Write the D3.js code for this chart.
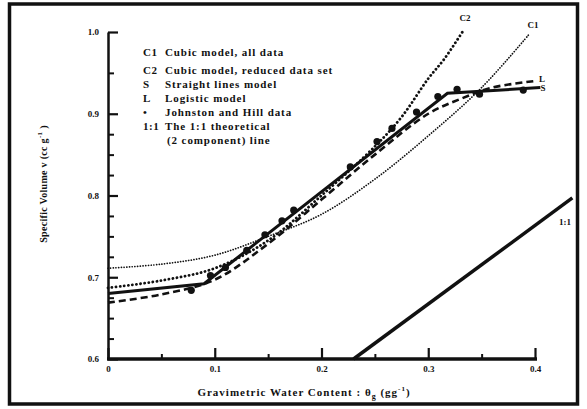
<!DOCTYPE html>
<html>
<head>
<meta charset="utf-8">
<script src="https://cdn.jsdelivr.net/npm/d3@7"></script>
<style>
    body { margin: 0; background: #fff; }
    svg { display: block; }
    text { font-family: "Liberation Serif", "DejaVu Serif", serif; font-weight: bold; fill: #111; }
    .tick line, .domain { stroke: #111; }
</style>
</head>
<body>
<div id="vis"></div>
<script>
// Data ----------------------------------------------------------------------

const THETA_TICKS = [0, 0.1, 0.2, 0.3, 0.4];
const THETA_MINOR = [0.05, 0.15, 0.25, 0.35];
const VOL_TICKS = [0.6, 0.7, 0.8, 0.9, 1.0];
const VOL_MINOR = [0.625, 0.65, 0.675, 0.725, 0.75, 0.775, 0.825, 0.85, 0.875, 0.95];

// C1: cubic model, all data
const C1_THETA = [0, 0.05, 0.1, 0.15, 0.2, 0.25, 0.3, 0.35, 0.395];
const C1_VOL = [0.711, 0.716, 0.727, 0.750, 0.777, 0.820, 0.873, 0.932, 0.998];

// C2: cubic model, reduced data set
const C2_THETA = [0, 0.05, 0.1, 0.15, 0.2, 0.25, 0.275, 0.3, 0.315, 0.332];
const C2_VOL = [0.687, 0.696, 0.711, 0.745, 0.800, 0.860, 0.896, 0.943, 0.967, 1.0];

// S: straight lines model
const S_THETA = [0, 0.09, 0.318, 0.405];
const S_VOL = [0.680, 0.692, 0.925, 0.932];

// L: logistic model
const L_THETA = [0, 0.05, 0.1, 0.15, 0.2, 0.25, 0.3, 0.33, 0.36, 0.4];
const L_VOL = [0.669, 0.679, 0.697, 0.741, 0.795, 0.850, 0.900, 0.918, 0.932, 0.940];

// 1:1 theoretical line
const ONE_THETA = [0.23, 0.435];
const ONE_VOL = [0.6, 0.797];

// Johnston and Hill data
const JH_THETA = [0.078, 0.096, 0.110, 0.130, 0.147, 0.163, 0.174, 0.227,
    0.252, 0.266, 0.289, 0.309, 0.327, 0.348, 0.389];
const JH_VOL = [0.684, 0.702, 0.712, 0.733, 0.752, 0.769, 0.782, 0.835,
    0.866, 0.882, 0.902, 0.921, 0.930, 0.924, 0.929];

const LEGEND_KEYS = ["C1", "C2", "S", "L", "\u2022", "1:1", ""];
const LEGEND_TEXT = ["Cubic model, all data", "Cubic model, reduced data set",
    "Straight lines model", "Logistic model", "Johnston and Hill data",
    "The 1:1 theoretical", "(2 component) line"];

// Chart ---------------------------------------------------------------------

const W = 587;
const H = 409;

const svg = d3.select("#vis")
    .append("svg")
    .attr("width", W)
    .attr("height", H);

// Outer frame
svg.append("rect")
    .attr("x", 9.5)
    .attr("y", 4)
    .attr("width", 568)
    .attr("height", 400)
    .attr("fill", "none")
    .attr("stroke", "#111")
    .attr("stroke-width", 3.5);

const x = d3.scaleLinear().domain([0, 0.4]).range([108, 535]);
const y = d3.scaleLinear().domain([0.6, 1.0]).range([359, 32]);

const zip = (xs, ys) => xs.map((d, i) => [d, ys[i]]);

// Axes
const fmtX = d => d === 0 ? "0" : d3.format(".1f")(d);

svg.append("g")
    .attr("transform", "translate(0,359)")
    .call(d3.axisBottom(x).tickValues(THETA_MINOR).tickSize(-5)
        .tickSizeOuter(0).tickFormat(""))
    .call(g => g.select(".domain").remove())
    .call(g => g.selectAll("line").attr("stroke-width", 2));

const xaxis = svg.append("g")
    .attr("transform", "translate(0,359)")
    .call(d3.axisBottom(x).tickValues(THETA_TICKS).tickSize(-11)
        .tickSizeOuter(0).tickPadding(7).tickFormat(fmtX));
xaxis.select(".domain")
    .attr("d", `M${x(0) - 1},0H${x(0.4) + 2}`)
    .attr("stroke-width", 3.5);
xaxis.selectAll("line").attr("stroke-width", 2.2);
xaxis.selectAll("text").attr("font-size", 9).attr("fill", "#111");

svg.append("g")
    .attr("transform", "translate(108,0)")
    .call(d3.axisLeft(y).tickValues(VOL_MINOR).tickSize(-6)
        .tickSizeOuter(0).tickFormat(""))
    .call(g => g.select(".domain").remove())
    .call(g => g.selectAll("line").attr("stroke-width", 2));

const yaxis = svg.append("g")
    .attr("transform", "translate(108,0)")
    .call(d3.axisLeft(y).tickValues(VOL_TICKS).tickSize(-10)
        .tickSizeOuter(0).tickPadding(9).tickFormat(d3.format(".1f")));
yaxis.select(".domain").attr("stroke-width", 2.5);
yaxis.selectAll("line").attr("stroke-width", 2.2);
yaxis.selectAll("text").attr("font-size", 9).attr("fill", "#111");

// Axis titles
const xt = svg.append("text")
    .attr("x", 304)
    .attr("y", 396)
    .attr("text-anchor", "middle")
    .attr("font-size", 11)
    .attr("letter-spacing", 1);
xt.append("tspan").text("Gravimetric Water Content : \u03b8");
xt.append("tspan").attr("font-size", 8).attr("dy", 3).text("g");
xt.append("tspan").attr("dy", -3).text("  (gg");
xt.append("tspan").attr("font-size", 7).attr("dy", -5).text("-1");
xt.append("tspan").attr("dy", 5).text(")");

const yt = svg.append("text")
    .attr("transform", "translate(47,184) rotate(-90)")
    .attr("text-anchor", "middle")
    .attr("font-size", 10)
    .attr("letter-spacing", 0.3);
yt.append("tspan").text("Specific Volume v (cc g");
yt.append("tspan").attr("font-size", 7).attr("dy", -5).text("-1");
yt.append("tspan").attr("dy", 5).text(" )");

// Model lines
const smooth = d3.line()
    .x(d => x(d[0]))
    .y(d => y(d[1]))
    .curve(d3.curveCatmullRom);

const straight = d3.line()
    .x(d => x(d[0]))
    .y(d => y(d[1]));

svg.append("path")
    .attr("d", smooth(zip(C1_THETA, C1_VOL)))
    .attr("fill", "none")
    .attr("stroke", "#111")
    .attr("stroke-width", 1.7)
    .attr("stroke-linecap", "round")
    .attr("stroke-dasharray", "0.1,2.6");

svg.append("path")
    .attr("d", smooth(zip(C2_THETA, C2_VOL)))
    .attr("fill", "none")
    .attr("stroke", "#111")
    .attr("stroke-width", 2.8)
    .attr("stroke-linecap", "round")
    .attr("stroke-dasharray", "0.1,4");

svg.append("path")
    .attr("d", smooth(zip(L_THETA, L_VOL)))
    .attr("fill", "none")
    .attr("stroke", "#111")
    .attr("stroke-width", 2.6)
    .attr("stroke-dasharray", "7,4");

svg.append("path")
    .attr("d", straight(zip(S_THETA, S_VOL)))
    .attr("fill", "none")
    .attr("stroke", "#111")
    .attr("stroke-width", 3);

svg.append("path")
    .attr("d", straight(zip(ONE_THETA, ONE_VOL)))
    .attr("fill", "none")
    .attr("stroke", "#111")
    .attr("stroke-width", 3.5);

// Johnston and Hill data points
svg.selectAll(".jh")
    .data(zip(JH_THETA, JH_VOL))
    .enter()
    .append("circle")
    .attr("class", "jh")
    .attr("cx", d => x(d[0]))
    .attr("cy", d => y(d[1]))
    .attr("r", 3.6)
    .attr("fill", "#111");

// Line labels
const lineLabel = (tx, ty, txt) => svg.append("text")
    .attr("x", tx)
    .attr("y", ty)
    .attr("font-size", 9)
    .attr("text-anchor", "middle")
    .text(txt);

lineLabel(465, 21, "C2");
lineLabel(533, 28, "C1");
lineLabel(542, 82, "L");
lineLabel(543, 91, "S");
lineLabel(565, 225, "1:1");

// Legend
const legend = svg.append("g")
    .attr("transform", "translate(143,56)");

const rows = legend.selectAll("g")
    .data(LEGEND_TEXT)
    .enter()
    .append("g")
    .attr("transform", (d, i) => {
        const dy = [0, 18, 32, 46, 60, 74, 88][i];
        return `translate(0,${dy})`;
    });

rows.append("text")
    .attr("font-size", 11)
    .attr("letter-spacing", 0.5)
    .text((d, i) => LEGEND_KEYS[i]);

rows.append("text")
    .attr("x", (d, i) => i === 6 ? 24 : 22)
    .attr("font-size", 11)
    .attr("letter-spacing", 0.9)
    .text(d => d);
</script>
</body>
</html>
